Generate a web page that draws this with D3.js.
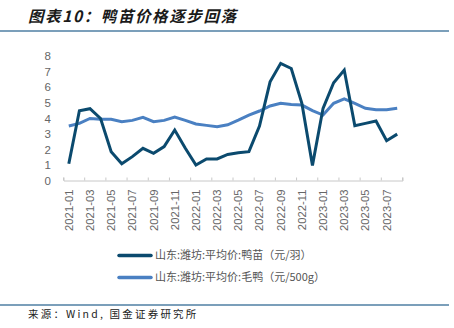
<!DOCTYPE html>
<html><head><meta charset="utf-8">
<script src="https://cdn.jsdelivr.net/npm/d3@7"></script>
<style>
html,body{margin:0;padding:0;background:#fff;}
svg{display:block;}
</style></head>
<body>
<svg id="c" width="454" height="328"></svg>
<script>
const months = ["2021-01","2021-02","2021-03","2021-04","2021-05","2021-06","2021-07","2021-08","2021-09","2021-10","2021-11","2021-12",
"2022-01","2022-02","2022-03","2022-04","2022-05","2022-06","2022-07","2022-08","2022-09","2022-10","2022-11","2022-12",
"2023-01","2023-02","2023-03","2023-04","2023-05","2023-06","2023-07","2023-08"];
const duckling = [1.1,4.5,4.63,4.0,1.88,1.1,1.56,2.09,1.77,2.2,3.26,2.1,
1.02,1.41,1.41,1.7,1.81,1.88,3.52,6.35,7.53,7.2,4.97,1.0,
4.65,6.29,7.1,3.54,3.69,3.84,2.58,3.0];
const duck = [3.52,3.69,4.0,3.95,3.95,3.8,3.88,4.07,3.8,3.88,4.09,3.88,
3.65,3.56,3.48,3.6,3.9,4.22,4.48,4.8,4.97,4.9,4.86,4.5,
4.22,4.97,5.25,4.97,4.65,4.56,4.56,4.65];
const yTicks = [0,1,2,3,4,5,6,7,8];
const seriesNames = ["山东:潍坊:平均价:鸭苗（元/羽）","山东:潍坊:平均价:毛鸭（元/500g）"];
const colors = ["#0b4a6e","#4a80c2"];

const svg = d3.select("#c");
const font = "'Liberation Sans','Noto Sans CJK SC',Arial,sans-serif";

// title
svg.append("text").attr("x",28).attr("y",22)
  .attr("font-family","'Noto Sans CJK SC',sans-serif").attr("font-size",15.5).attr("font-weight","bold")
  .attr("font-style","italic").attr("letter-spacing",1.6).attr("fill","#1a1a1a").text("图表10：鸭苗价格逐步回落");
svg.append("line").attr("x1",0).attr("x2",449).attr("y1",31).attr("y2",31)
  .attr("stroke","#4f7fa3").attr("stroke-width",1.5);

const x = d3.scaleBand().domain(months).range([63.5,402.5]).paddingInner(0).paddingOuter(0);
const y = d3.scaleLinear().domain([0,8]).range([181,56]);

// y labels
const yg = svg.append("g");
yg.selectAll("text").data(yTicks).join("text")
  .attr("x",51).attr("y",d=>y(d)).attr("dy","0.35em").attr("text-anchor","end")
  .attr("font-family",font).attr("font-size",11.5).attr("fill","#666").text(d=>d);

// x axis
const xAxis = d3.axisBottom(x).tickSizeInner(-3).tickSizeOuter(-3)
  .tickValues(months.filter((d,i)=>i%2===0)).tickFormat(d=>d);
const xg = svg.append("g").attr("transform","translate(0,180.5)").call(xAxis);
xg.select(".domain").attr("stroke","#c8c8c8");
xg.selectAll(".tick line").attr("stroke","#c8c8c8")
  .attr("transform",`translate(${-x.bandwidth()/2},0)`);
xg.selectAll(".tick text").attr("font-family",font).attr("font-size",11.3).attr("fill","#666")
  .attr("transform","rotate(-90)").attr("text-anchor","end").attr("x",-9).attr("y",0).attr("dy","0.35em");
xg.append("line").attr("x1",402.5).attr("x2",402.5).attr("y1",0).attr("y2",-3).attr("stroke","#c8c8c8");

// lines
const line = d3.line().x((d,i)=>x(months[i])+x.bandwidth()/2).y(d=>y(d));
[duck, duckling].forEach((s,k)=>{
  const ci = k===0?1:0;
  svg.append("path").datum(s).attr("d",line).attr("fill","none")
    .attr("stroke",colors[ci]).attr("stroke-width",3).attr("stroke-linejoin","miter");
});

// legend
const lg = svg.append("g");
[0,1].forEach(i=>{
  const ly = i===0?255.5:277.5;
  lg.append("line").attr("x1",119).attr("x2",151).attr("y1",ly).attr("y2",ly)
    .attr("stroke",colors[i]).attr("stroke-width",3.5).attr("stroke-linecap","round");
  lg.append("text").attr("x",155).attr("y",ly).attr("dy","0.35em")
    .attr("font-family","'Noto Sans CJK SC',sans-serif").attr("font-size",11).attr("fill","#555")
    .text(seriesNames[i]);
});

// bottom
svg.append("line").attr("x1",0).attr("x2",449).attr("y1",305).attr("y2",305)
  .attr("stroke","#4f7fa3").attr("stroke-width",1.5);
svg.append("text").attr("x",28).attr("y",318)
  .attr("font-family","'Noto Sans CJK SC',sans-serif").attr("font-size",10.5).attr("letter-spacing",2.2).attr("fill","#222")
  .text("来源：Wind, 国金证券研究所");
</script>
</body></html>
